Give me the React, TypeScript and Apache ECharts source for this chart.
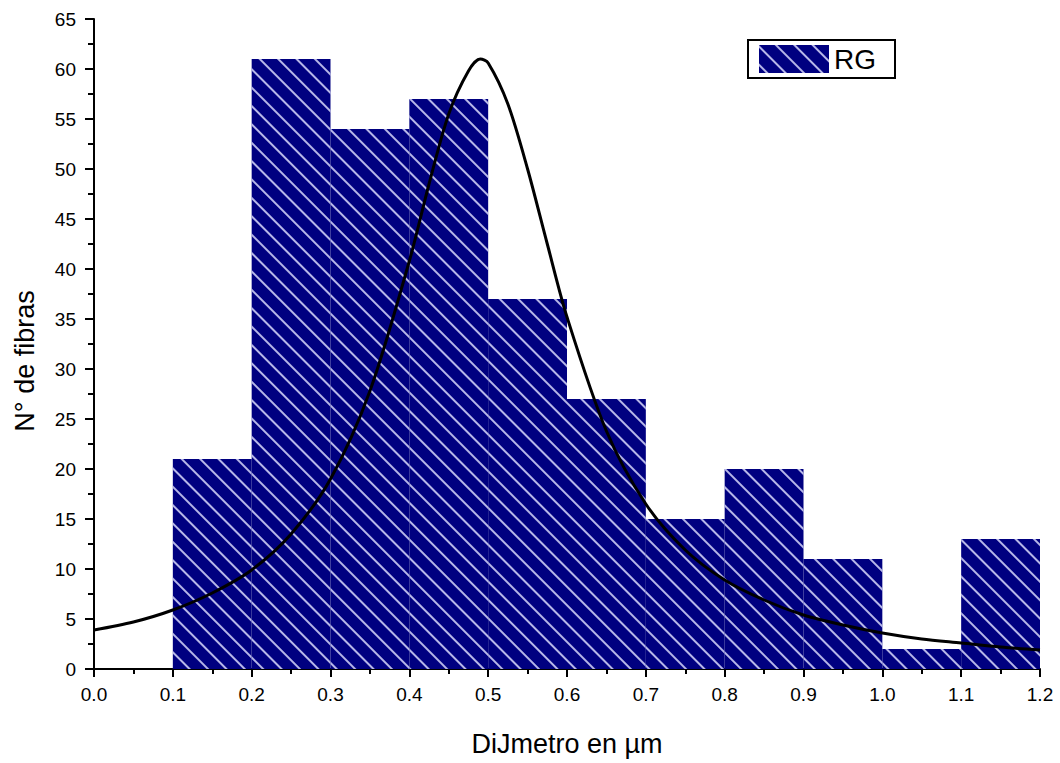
import React, { useEffect, useRef } from "react";
import * as echarts from "echarts";

// Histogram bins (centres, width 0.1 µm) and counts
const binCenters = [0.15, 0.25, 0.35, 0.45, 0.55, 0.65, 0.75, 0.85, 0.95, 1.05, 1.15];
const binCounts = [21, 61, 54, 57, 37, 27, 15, 20, 11, 2, 13];

// Fitted curve
const fitX = [0, 0.05, 0.1, 0.15, 0.2, 0.25, 0.3, 0.35, 0.4, 0.425, 0.45, 0.475, 0.49, 0.5, 0.525, 0.55, 0.575, 0.6, 0.65, 0.7, 0.75, 0.8, 0.85, 0.9, 0.95, 1.0, 1.05, 1.1, 1.15, 1.2];
const fitY = [3.9, 4.7, 5.9, 7.6, 9.9, 13.5, 19.0, 27.8, 40.8, 48.5, 55.5, 59.8, 61.0, 60.6, 56.5, 50.0, 42.5, 35.2, 23.8, 16.5, 11.9, 8.9, 6.9, 5.4, 4.4, 3.6, 3.0, 2.6, 2.2, 1.9];

const seriesName = "RG";
const xTitle = "DiJmetro en µm";
const yTitle = "N° de fibras";

const FONT = '"Liberation Sans", Arial, sans-serif';

export default function App() {
  const ref = useRef<HTMLDivElement>(null);

  useEffect(() => {
    if (!ref.current) return;
    const chart = echarts.init(ref.current, null, { renderer: "svg" });
    const option: any = {
      animation: false,
      backgroundColor: "#ffffff",
      textStyle: { fontFamily: FONT },
      grid: { left: 94, top: 19, width: 946, height: 650, containLabel: false },
      legend: {
        data: [{ name: seriesName, icon: "rect" }],
        left: 748,
        top: 40,
        orient: "horizontal",
        padding: [5, 19, 5, 11],
        borderColor: "#000",
        borderWidth: 2,
        backgroundColor: "#fff",
        itemWidth: 70,
        itemHeight: 28,
        selectedMode: false,
        textStyle: { fontSize: 28, color: "#000", fontFamily: FONT },
      },
      xAxis: {
        type: "value",
        min: 0,
        max: 1.2,
        interval: 0.1,
        name: xTitle,
        nameLocation: "middle",
        nameGap: 61,
        nameTextStyle: { fontSize: 27, color: "#000", fontFamily: FONT },
        axisLine: { show: true, onZero: false, lineStyle: { color: "#000", width: 2 } },
        axisTick: { show: true, inside: false, length: 8, lineStyle: { color: "#000", width: 2 } },
        minorTick: { show: true, splitNumber: 2, length: 5, lineStyle: { color: "#000", width: 2 } },
        splitLine: { show: false },
        axisLabel: {
          margin: 16,
          fontSize: 19,
          color: "#000",
          fontFamily: FONT,
          formatter: (v: number) => v.toFixed(1),
        },
      },
      yAxis: {
        type: "value",
        min: 0,
        max: 65,
        interval: 5,
        axisLine: { show: true, onZero: false, lineStyle: { color: "#000", width: 2 } },
        axisTick: { show: true, inside: false, length: 9, lineStyle: { color: "#000", width: 2 } },
        minorTick: { show: true, splitNumber: 2, length: 6, lineStyle: { color: "#000", width: 2 } },
        splitLine: { show: false },
        axisLabel: { margin: 18, fontSize: 19, color: "#000", fontFamily: FONT },
      },
      graphic: [
        {
          type: "text",
          x: 25,
          y: 361,
          rotation: Math.PI / 2,
          style: {
            text: yTitle,
            fontSize: 27,
            fontFamily: FONT,
            fill: "#000",
            textAlign: "center",
            textVerticalAlign: "middle",
          },
        },
      ],
      series: [
        {
          name: seriesName,
          type: "bar",
          data: binCenters.map((c, i) => [c, binCounts[i]]),
          barWidth: "100%",
          barGap: "0%",
          itemStyle: {
            color: "#000080",
            decal: {
              symbol: "rect",
              symbolSize: 1,
              color: "rgba(215,215,250,0.85)",
              dashArrayX: [1, 0],
              dashArrayY: [1.1, 11],
              rotation: Math.PI / 4,
            },
          },
          z: 1,
        },
        {
          name: "fit",
          type: "line",
          data: fitX.map((x, i) => [x, fitY[i]]),
          smooth: 0.3,
          showSymbol: false,
          symbol: "none",
          lineStyle: { color: "#000", width: 3 },
          z: 3,
        },
      ],
    };
    chart.setOption(option);
    return () => chart.dispose();
  }, []);

  return (
    <div
      ref={ref}
      style={{ position: "fixed", left: 0, top: 0, width: 1060, height: 763, background: "#fff" }}
    />
  );
}
